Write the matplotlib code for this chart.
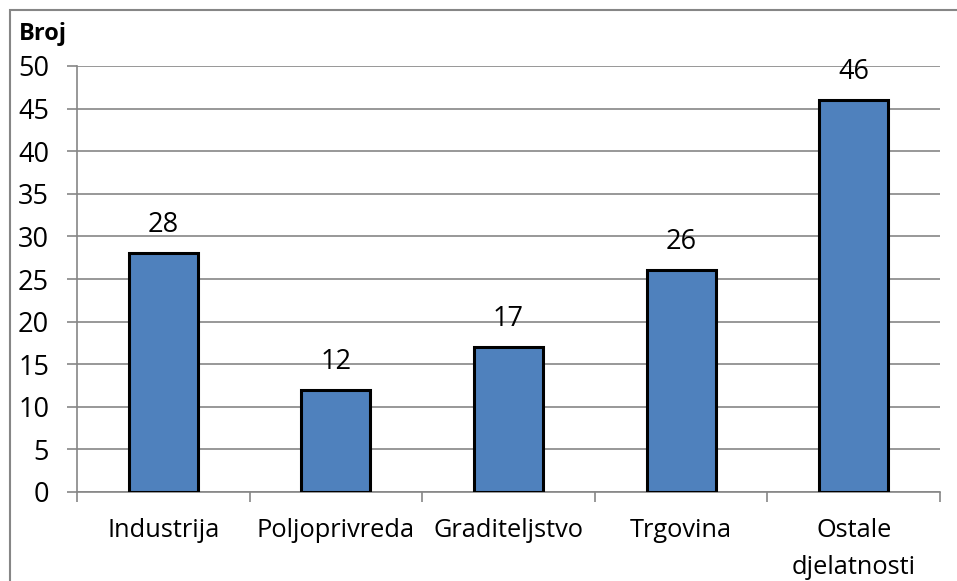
import matplotlib.pyplot as plt
from matplotlib.patches import Rectangle

categories = ['Industrija', 'Poljoprivreda', 'Graditeljstvo', 'Trgovina', 'Ostale\ndjelatnosti']
values = [28, 12, 17, 26, 46]
y_ticks = list(range(0, 51, 5))

plt.rcParams['font.family'] = ['Open Sans', 'DejaVu Sans']
FS = 18.3      # category text
NUM_FS = 19.5  # digits (Calibri digits look bigger)

W, H = 957, 581
fig = plt.figure(figsize=(W / 100, H / 100), dpi=100)

# Outer chart border (clipped by the image on right/bottom)
fig.patches.append(Rectangle((10 / W, -0.1), 2, 1.1 - 10 / H, transform=fig.transFigure,
                             fill=False, edgecolor='#868686', linewidth=1.5))

left, right, top, bottom = 77, 940, 66, 492
ax = fig.add_axes([left / W, 1 - bottom / H, (right - left) / W, (bottom - top) / H])

x = range(len(categories))
ax.bar(x, values, width=0.4, color='#4F81BD', edgecolor='black', linewidth=2.2, zorder=3)
for i, v in enumerate(values):
    ax.text(i, v + 3.3, str(v), ha='center', va='center', fontsize=NUM_FS)

ax.set_xlim(-0.5, len(categories) - 0.5)
ax.set_ylim(0, 50)
ax.set_yticks(y_ticks)
ax.tick_params(axis='y', labelsize=NUM_FS, length=7, color='#868686', width=1.2, pad=13)
ax.yaxis.grid(True, color='#868686', linewidth=1.2, zorder=0)

ax.set_xticks([i + 0.5 for i in range(-1, len(categories))])
ax.set_xticklabels([])
ax.set_xticks(list(x), minor=True)
ax.set_xticklabels(categories, minor=True, fontsize=FS, linespacing=1.6)
ax.tick_params(axis='x', which='minor', length=0, pad=19)
ax.tick_params(axis='x', which='major', length=7, color='#868686', width=1.2)

for s in ['top', 'right']:
    ax.spines[s].set_visible(False)
for s in ['left', 'bottom']:
    ax.spines[s].set_color('#868686')
    ax.spines[s].set_linewidth(1.2)

fig.text(19 / W, 1 - 34 / H, 'Broj', fontsize=17, fontweight='bold', va='center', ha='left')

fig.savefig('out.png', dpi=100)
